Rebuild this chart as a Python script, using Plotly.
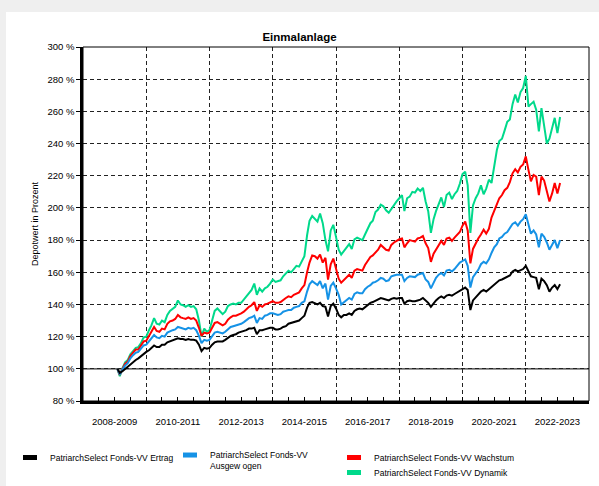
import plotly.graph_objects as go
import pandas as pd

# monthly observation dates (end-of-month values plotted at start of following month)
dates = pd.date_range("2009-02-01", "2023-02-01", freq="MS")

ertrag = [
    100, 97.5, 98.5, 100, 101, 103, 104.5, 105.5, 106.5, 108, 109.5,
    110.5, 111.5, 113, 114.5, 113.5, 113.5, 115, 115, 116.5, 117, 117.5, 118,
    119, 118.5, 118.5, 118, 118.5, 118, 118, 117.5, 115, 111, 113, 112.5,
    113, 115, 116.5, 117, 117, 117, 118, 119.5, 120.5, 121, 121.5, 122.5,
    123, 123.5, 124, 125, 125, 125.5, 121.5, 124, 124, 124.5, 125, 125.5,
    125.5, 124.5, 124.5, 125, 126, 126.5, 128, 128.5, 129, 129.5, 130, 131.5,
    133, 138, 141, 141.5, 140.5, 140, 141, 139, 138.5, 132.5, 139, 140.5,
    137.5, 133.5, 132, 133.5, 133.5, 134.5, 133.5, 136, 137, 137.5, 137, 138.5,
    140, 141, 141.5, 142.5, 143, 144, 143.5, 143, 142.5, 143.5, 144, 143.5,
    144, 144, 140.5, 142, 142.5, 142, 142, 142.5, 143, 144, 142.5, 141,
    138.5, 141, 142.5, 144, 145, 144, 145.5, 146, 145.5, 146.5, 147.5, 148.5,
    149.5, 150.5, 149, 136.5, 142.5, 144.5, 146, 148, 149, 148, 149.5, 151,
    152, 153.5, 155, 155.5, 156.5, 157, 158, 160.5, 161.5, 160.5, 161.5, 162,
    164, 161, 157.5, 157, 156.5, 149.5, 156, 154.5, 152, 148, 150.5, 152,
    149.5, 152.5,
]

ausgewogen = [
    100, 96.5, 99.5, 102, 103.5, 106.5, 108.5, 110, 110.5, 112.5, 114.5,
    115, 117, 119, 121, 119.5, 119, 120.5, 120, 122.5, 123.5, 124, 124.5,
    126, 125.5, 125, 124.5, 125.5, 125, 125.5, 124, 120.5, 116, 118, 117.5,
    118, 120.5, 122.5, 123, 122.5, 122, 123, 124.5, 126, 126.5, 127, 127.5,
    128, 129, 130, 131.5, 132, 133, 128.5, 131.5, 131, 133, 133.5, 134.5,
    134.5, 134, 133.5, 134, 135.5, 136, 136.5, 136.5, 138, 138.5, 139, 141,
    142, 148, 152.5, 154.5, 153.5, 152, 154.5, 150, 153, 143, 151.5, 153.5,
    150, 146, 140, 141.5, 142.5, 144, 143, 146.5, 147.5, 147, 147, 149.5,
    151, 152, 153.5, 154, 155, 156.5, 156, 154.5, 155, 157.5, 158, 158.5,
    158.5, 158.5, 154.5, 156.5, 157.5, 157, 157, 158.5, 159, 159.5, 155.5, 154,
    150, 154, 156.5, 158.5, 159.5, 158, 161, 161.5, 160.5, 162, 164, 166,
    167, 168, 164, 150.5, 157, 159.5, 161.5, 165, 166.5, 165.5, 168, 172,
    175.5, 177.5, 181, 182, 184, 185, 187.5, 190, 191, 189, 191.5, 193,
    196, 190.5, 184, 186, 183.5, 175.5, 184, 182, 178.5, 174, 177.5, 180,
    175, 180,
]

wachstum = [
    100, 96.2, 100, 103, 104.5, 108, 110, 112, 112, 114.5, 117,
    117.5, 120.5, 123, 126, 123.5, 123, 125, 124.5, 128, 129.5, 130, 131,
    133.5, 132, 131.5, 131, 132, 131, 131.5, 130, 125.5, 120.5, 122.5, 122,
    122.5, 126, 128.5, 129, 128, 127, 128, 130.5, 132, 133, 133, 134,
    134.5, 135.5, 137, 138.5, 139.5, 141.5, 136, 139.5, 138.5, 140, 140.5, 141.5,
    142, 141, 141, 141.5, 143, 144, 145, 144.5, 146, 147, 147.5, 150,
    152, 160, 166, 170.5, 170, 168.5, 171, 166, 169, 155.5, 165, 168.5,
    163, 156, 153.5, 155, 156.5, 158.5, 156.5, 161, 162, 161.5, 161, 164.5,
    167, 169.5, 170.5, 172.5, 174, 177, 175.5, 174, 173.5, 177, 178.5, 179.5,
    180.5, 181, 175.5, 178, 180, 179.5, 179, 181, 181.5, 182.5, 178, 175,
    166.5, 171.5, 174, 177.5, 179.5, 177, 181, 181.5, 179.5, 181.5, 183, 185,
    189, 191.5, 186, 165.5, 174.5, 178, 181, 183.5, 186.5, 184, 187, 194,
    198.5, 202, 206, 208, 211, 212.5, 216, 221.5, 224, 222, 225.5, 227,
    232, 223.5, 216.5, 220.5, 219.5, 208, 219.5, 217, 211, 204, 209, 215.5,
    209, 215.5,
]

dynamik = [
    100, 95.5, 100.5, 104, 105.5, 109, 111, 113, 113.5, 116, 119.5,
    120, 124, 127, 131.5, 128, 127.5, 130, 129, 133.5, 136, 137, 138.5,
    142.5, 140, 139.5, 138.5, 139.5, 138.5, 139, 137, 130, 120, 125, 123,
    124, 130.5, 136, 137.5, 136, 134, 135.5, 139, 140, 140.5, 140, 141,
    141, 143, 145, 147, 149, 153, 146, 150, 148, 150, 151, 153,
    155.5, 154, 154.5, 155, 157.5, 159, 161, 160, 162, 164, 163.5, 166.5,
    170, 183, 192, 195, 193, 191.5, 196.5, 190.5, 180, 173, 186, 189.5,
    182, 174, 171, 173, 175, 177.5, 174.5, 180.5, 181.5, 181, 180, 183.5,
    187.5, 190.5, 192, 197.5, 199, 202, 201, 198.5, 197, 199.5, 202, 204,
    206, 208, 198, 206, 207, 210, 209.5, 212, 210.5, 212.5, 204, 198,
    184.5, 193, 198, 202, 206.5, 200.5, 208, 209.5, 205.5, 208.5, 210.5, 215,
    221, 222.5, 214, 184.5, 201.5, 206, 209, 214, 208.5, 212, 217.5, 215.5,
    226, 236, 241.5, 243, 248, 253.5, 255, 264.5, 270.5, 265.5, 272, 274.5,
    282, 263, 264.5, 266, 261, 247.5, 262, 252, 240, 243, 250, 256,
    246.5, 256.5,
]

series_names = [
    "PatriarchSelect Fonds-VV Ertrag",
    "PatriarchSelect Fonds-VV<br>Ausgew ogen",
    "PatriarchSelect Fonds-VV Wachstum",
    "PatriarchSelect Fonds-VV Dynamik",
]
series_values = [ertrag, ausgewogen, wachstum, dynamik]
series_colors = ["#000000", "#1592e6", "#ff0000", "#00d98b"]
series_legends = ["legend", "legend2", "legend3", "legend4"]

x_tick_vals = ["2009-01-01", "2011-01-01", "2013-01-01", "2015-01-01",
               "2017-01-01", "2019-01-01", "2021-01-01", "2023-01-01"]
x_tick_text = ["2008-2009", "2010-2011", "2012-2013", "2014-2015",
               "2016-2017", "2018-2019", "2020-2021", "2022-2023"]

FONT = "Liberation Sans, Arial, sans-serif"

fig = go.Figure()

for name, vals, col in zip(series_names[::-1], series_values[::-1], series_colors[::-1]):
    fig.add_trace(go.Scatter(x=dates, y=vals, mode="lines", name=name,
                             line=dict(color=col, width=2), showlegend=False,
                             hoverinfo="skip"))

for name, col, lg in zip(series_names, series_colors, series_legends):
    fig.add_trace(go.Scatter(x=[None], y=[None], mode="markers", name=name,
                             xaxis="x2", legend=lg,
                             marker=dict(symbol="line-ew", size=10, color=col,
                                         line=dict(color=col, width=5))))

W, H = 599, 486
L, R, T, B = 83, 10, 47, 85
pw, ph = W - L - R, H - T - B

def px_x(p):
    return (p - L) / pw

def px_y(p):
    return (H - B - p) / ph

shapes = [
    dict(type="rect", xref="paper", yref="paper", x0=px_x(0), x1=px_x(W),
         y0=px_y(12), y1=px_y(0), fillcolor="#efefef", line_width=0, layer="above"),
    dict(type="rect", xref="paper", yref="paper", x0=px_x(0), x1=px_x(6),
         y0=px_y(H), y1=px_y(0), fillcolor="#efefef", line_width=0, layer="above"),
    dict(type="line", xref="paper", yref="y", x0=0, x1=1, y0=100, y1=100,
         line=dict(color="#333333", width=1.2), layer="below"),
    dict(type="rect", xref="paper", yref="paper", x0=0, x1=1, y0=0, y1=1,
         line=dict(color="#000000", width=1), layer="above"),
]

legend_common = dict(xanchor="left", yanchor="top", orientation="v", itemwidth=30,
                     font=dict(family=FONT, size=8.5), bgcolor="rgba(0,0,0,0)",
                     itemsizing="trace", tracegroupgap=0)

fig.update_layout(
    width=W, height=H,
    margin=dict(l=L, r=R, t=T, b=B, autoexpand=False),
    paper_bgcolor="white", plot_bgcolor="white",
    font=dict(family=FONT, size=9, color="#000000"),
    title=dict(text="<b>Einmalanlage</b>", x=0.5, xref="container", xanchor="center",
               y=1 - 37 / H, yref="container", yanchor="middle",
               font=dict(family=FONT, size=11.5, color="#000000")),
    shapes=shapes,
    annotations=[dict(text="Depotwert in Prozent", xref="paper", yref="paper",
                      x=px_x(35), y=0.5, textangle=-90, showarrow=False,
                      font=dict(family=FONT, size=9, color="#000000"),
                      xanchor="center", yanchor="middle")],
    xaxis=dict(type="date", range=["2008-01-01", "2024-01-01"],
               tickmode="array", tickvals=x_tick_vals, ticktext=x_tick_text,
               ticks="", showgrid=False, zeroline=False,
               showline=True, linecolor="#000000", linewidth=2.5,
               tickfont=dict(family=FONT, size=9.5), ticklabelstandoff=10,
               minor=dict(tick0="2010-01-01", dtick="M24", showgrid=True,
                          gridcolor="#222222", gridwidth=1, griddash="4px,3px",
                          ticks="")),
    xaxis2=dict(type="date", range=["2008-01-01", "2024-01-01"], overlaying="x",
                anchor="y", side="bottom", tick0="2008-01-01", dtick="M6",
                ticks="inside", ticklen=4, tickwidth=1, tickcolor="#000000",
                showticklabels=False, showgrid=False, zeroline=False, showline=False),
    yaxis=dict(range=[80, 300], tick0=80, dtick=20, ticksuffix=" %",
               ticks="outside", ticklen=4, tickcolor="#000000",
               showgrid=True, gridcolor="#222222", gridwidth=1, griddash="4px,3px",
               zeroline=False, showline=True, linecolor="#000000", linewidth=2.5,
               tickfont=dict(family=FONT, size=9.5)),
    legend=dict(x=px_x(10), y=px_y(443), **legend_common),
    legend2=dict(x=px_x(170), y=px_y(443), valign="top", **legend_common),
    legend3=dict(x=px_x(334), y=px_y(443), **legend_common),
    legend4=dict(x=px_x(334), y=px_y(458), **legend_common),
    showlegend=True,
)

fig.write_html("out.html", config={"displayModeBar": False},
               post_script="document.body.style.margin='0';document.body.style.overflow='hidden';")
